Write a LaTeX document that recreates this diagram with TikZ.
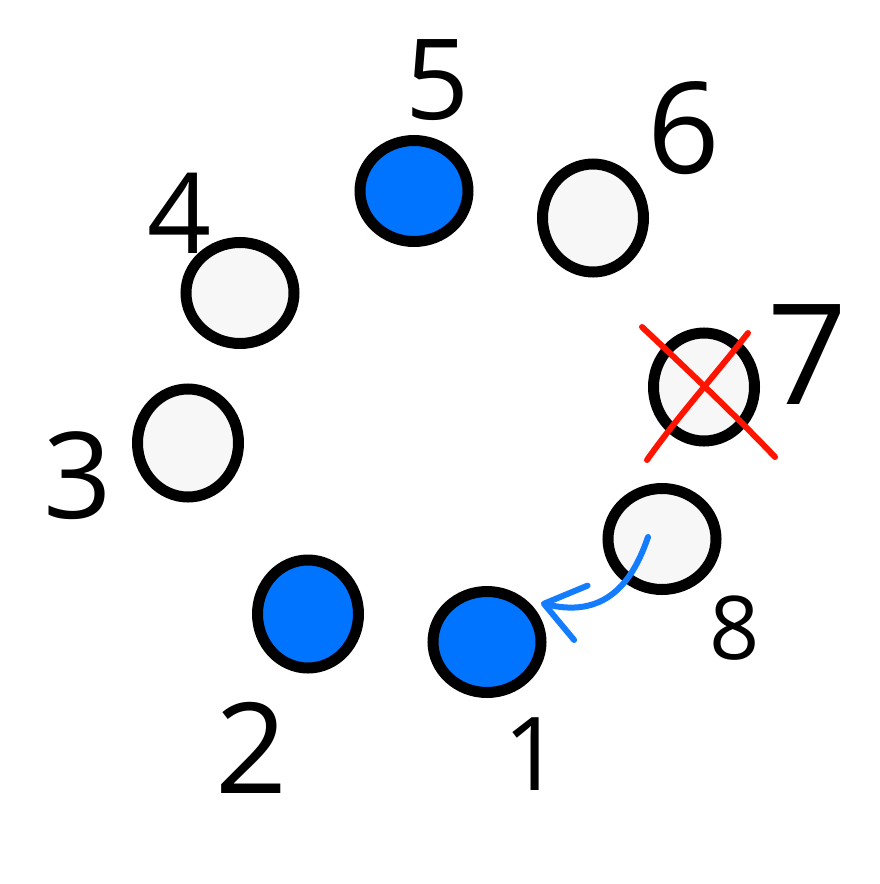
\documentclass[tikz,border=0pt]{standalone}
\usepackage{fontspec}
\setmainfont{Open Sans}
\usetikzlibrary{shapes.geometric,arrows.meta}
\definecolor{dotblue}{RGB}{0,116,255}
\definecolor{dotgray}{RGB}{247,247,247}
\definecolor{arrowblue}{RGB}{20,125,255}
\definecolor{crossred}{RGB}{255,20,0}
\tikzset{
  dot/.style={ellipse,draw=black,line width=11pt,inner sep=0pt},
  dotfull/.style={dot,fill=dotblue},
  dotempty/.style={dot,fill=dotgray},
  wide/.style={minimum width=108pt,minimum height=101pt},
  tall/.style={minimum width=101pt,minimum height=108pt},
  numlabel/.style={inner sep=0pt,font=\fontsize{#1}{#1}\selectfont},
  crossline/.style={draw=crossred,line width=6pt,line cap=round},
  moveline/.style={draw=arrowblue,line width=6pt,line cap=round,
    -{Straight Barb[length=38pt,width=56pt,line width=6pt,round]}}
}
\begin{document}
\begin{tikzpicture}[x=1pt,y=-1pt]
\useasboundingbox[fill=white] (0,0) rectangle (880,884);
% circles
\node[dotfull,wide]  (c5) at (414,191) {};
\node[dotempty,tall] (c6) at (593,218) {};
\node[dotempty,wide] (c4) at (240,293) {};
\node[dotempty,tall] (c7) at (704,387) {};
\node[dotempty,tall] (c3) at (188,443) {};
\node[dotempty,wide] (c8) at (662,539) {};
\node[dotfull,tall]  (c2) at (308,614) {};
\node[dotfull,wide]  (c1) at (487,642) {};
% labels
\node[numlabel=112] (l5) at (438,80) {5};
\node[numlabel=127] (l6) at (684,128) {6};
\node[numlabel=112] (l4) at (180,213) {4};
\node[numlabel=140] (l7) at (808,355) {7};
\node[numlabel=120] (l3) at (78,476) {3};
\node[numlabel=88]  (l8) at (735,628) {8};
\node[numlabel=126] (l2) at (252,748) {2};
\node[numlabel=102] (l1) at (533,754) {1};
% red cross over 7
\path[crossline] (642,327) .. controls (690,372) and (740,420) .. (775,457);
\path[crossline] (748,333) .. controls (715,375) and (675,420) .. (647,460);
% blue arrow from 8 to 1
\coordinate (start) at (648,537);
\coordinate (tip) at (541,603);
\path[moveline] (start) .. controls (635,575) and (610,620) .. (tip);
\end{tikzpicture}
\end{document}
